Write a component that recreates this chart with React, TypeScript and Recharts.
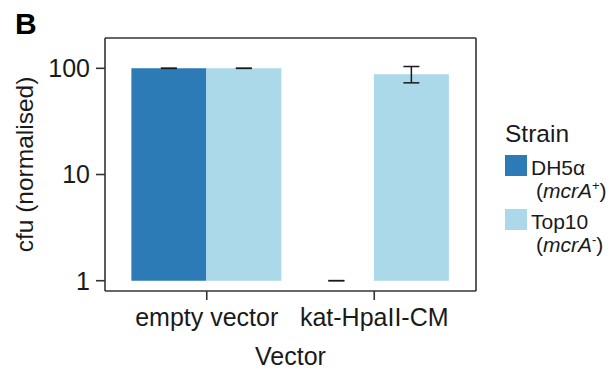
import React from "react";
import { BarChart, Bar, XAxis, YAxis, ErrorBar, Legend, Rectangle } from "recharts";

const vectors = ["empty vector", "kat-HpaII-CM"];
const dh5aMean = [100, 1.001];
const dh5aLow = [100, 1.001];
const dh5aHigh = [100, 1.001];
const top10Mean = [100, 88];
const top10Low = [100, 73];
const top10High = [100, 104];
const yTicks = [1, 10, 100];
const strainNames = ["DH5α", "Top10"];
const genotypeSigns = ["+", "-"];
const strainColors = ["#2C7BB6", "#ABD9E9"];
const BAR_BASE = 1;

const data = vectors.map((v, i) => ({
  vector: v,
  dh5a: [BAR_BASE, dh5aMean[i]],
  top10: [BAR_BASE, top10Mean[i]],
  dh5aErr: [dh5aMean[i] - dh5aLow[i], dh5aHigh[i] - dh5aMean[i]],
  top10Err: [top10Mean[i] - top10Low[i], top10High[i] - top10Mean[i]],
}));

const FONT = "'Liberation Sans', Arial, Helvetica, sans-serif";
const AXIS_COLOR = "#333";
const TEXT_COLOR = "#1a1a1a";

const BarShape = (props: any) => {
  if (!props.height || Math.abs(props.height) < 0.5) return <g />;
  return <Rectangle {...props} />;
};

const YTitle = (props: any) => {
  const vb = props.viewBox || {};
  const cx = 33;
  const cy = vb.y + vb.height / 2;
  return (
    <text
      x={cx}
      y={cy}
      transform={`rotate(-90, ${cx}, ${cy})`}
      textAnchor="middle"
      fontSize={24.5}
      fill={TEXT_COLOR}
      fontFamily={FONT}
    >
      cfu (normalised)
    </text>
  );
};

const XTitle = (props: any) => {
  const vb = props.viewBox || {};
  return (
    <text
      x={vb.x + vb.width / 2}
      y={vb.y + 74}
      textAnchor="middle"
      fontSize={25}
      fill={TEXT_COLOR}
      fontFamily={FONT}
    >
      Vector
    </text>
  );
};

const LegendContent = (props: any) => {
  const payload = props.payload || [];
  return (
    <svg width={115} height={150} style={{ overflow: "visible", display: "block" }}>
      <text x={5} y={27} fontSize={24.5} fill={TEXT_COLOR} fontFamily={FONT}>
        Strain
      </text>
      {payload.map((p: any, i: number) => {
        const top = 40 + i * 54;
        return (
          <g key={i}>
            <rect x={5} y={top} width={22} height={21} fill={p.color} />
            <text x={31} y={top + 20} fontSize={21} fill={TEXT_COLOR} fontFamily={FONT}>
              {p.value}
            </text>
            <text x={36} y={top + 43} fontSize={21} fill={TEXT_COLOR} fontFamily={FONT}>
              (<tspan fontStyle="italic">mcrA</tspan>
              <tspan fontSize={13} dy={-8}>
                {genotypeSigns[i]}
              </tspan>
              <tspan dy={8}>)</tspan>
            </text>
          </g>
        );
      })}
    </svg>
  );
};

export default function App() {
  return (
    <div style={{ position: "absolute", left: 0, top: 0, width: 615, height: 372, background: "#fff" }}>
      <div
        style={{
          position: "absolute",
          left: 15,
          top: 9,
          fontFamily: FONT,
          fontWeight: "bold",
          fontSize: 30,
          lineHeight: "30px",
          color: "#000",
        }}
      >
        B
      </div>
      <BarChart
        width={615}
        height={372}
        data={data}
        margin={{ top: 37, right: 138, bottom: 0, left: 45 }}
        barCategoryGap="5%"
        barGap={0}
        style={{ fontFamily: FONT }}
      >
        <XAxis
          dataKey="vector"
          type="category"
          height={81}
          padding={{ left: 18, right: 18 }}
          axisLine={{ stroke: AXIS_COLOR, strokeWidth: 1.6 }}
          tickLine={{ stroke: AXIS_COLOR, strokeWidth: 1.6 }}
          tickSize={9}
          tickMargin={8}
          tick={{ fontSize: 25, fill: TEXT_COLOR, fontFamily: FONT }}
          interval={0}
          label={<XTitle />}
        />
        <XAxis
          xAxisId="top"
          orientation="top"
          dataKey="vector"
          height={1}
          tick={false}
          tickLine={false}
          axisLine={{ stroke: AXIS_COLOR, strokeWidth: 1.6 }}
        />
        <YAxis
          type="number"
          scale="log"
          domain={[0.8, 193]}
          allowDataOverflow
          ticks={yTicks}
          width={60}
          axisLine={{ stroke: AXIS_COLOR, strokeWidth: 1.6 }}
          tickLine={{ stroke: AXIS_COLOR, strokeWidth: 1.6 }}
          tickSize={9}
          tickMargin={6}
          tick={{ fontSize: 25, fill: TEXT_COLOR, fontFamily: FONT }}
          label={<YTitle />}
        />
        <YAxis
          yAxisId="right"
          orientation="right"
          type="number"
          domain={[0, 1]}
          width={1}
          tick={false}
          tickLine={false}
          axisLine={{ stroke: AXIS_COLOR, strokeWidth: 1.6 }}
        />
        <Legend
          layout="vertical"
          align="center"
          verticalAlign="middle"
          content={<LegendContent />}
          wrapperStyle={{ left: 500, top: 115, width: 115, height: 150 }}
        />
        <Bar dataKey="dh5a" name={strainNames[0]} fill={strainColors[0]} isAnimationActive={false} shape={BarShape}>
          <ErrorBar dataKey="dh5aErr" width={8} stroke="#1a1a1a" strokeWidth={1.5} direction="y" />
        </Bar>
        <Bar dataKey="top10" name={strainNames[1]} fill={strainColors[1]} isAnimationActive={false} shape={BarShape}>
          <ErrorBar dataKey="top10Err" width={8} stroke="#1a1a1a" strokeWidth={1.5} direction="y" />
        </Bar>
      </BarChart>
    </div>
  );
}
